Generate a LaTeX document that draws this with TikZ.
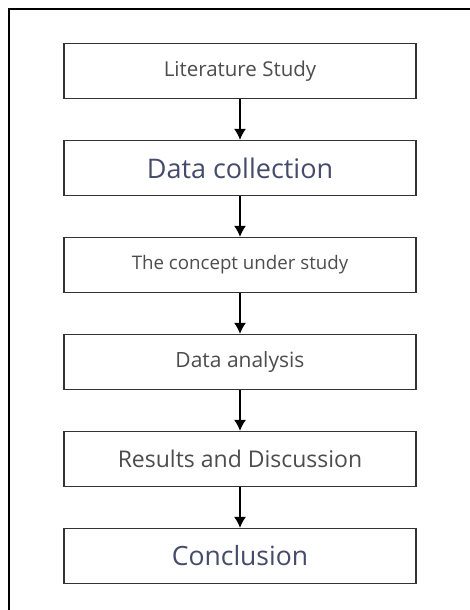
\documentclass[tikz,border=0pt]{standalone}
\usepackage{fontspec}
\setmainfont{Open Sans}
\usepackage{tikz}
\usetikzlibrary{shapes}
\usetikzlibrary{arrows.meta}
\definecolor{textgray}{HTML}{4D4D4D}
\definecolor{textblue}{HTML}{454B6A}
\definecolor{boxline}{HTML}{333333}
\tikzstyle{stepbox} = [rectangle, minimum width=352pt, minimum height=55pt, text centered, draw=boxline,
line width=1.3pt, fill=white, text=textgray, inner sep=0pt]
\tikzstyle{arrow} = [line width=1.1pt, -{Latex[length=11pt, width=12pt]}]

\begin{document}
\begin{tikzpicture}[x=1pt, y=-1pt, node distance=97pt]
  \useasboundingbox (0,0) rectangle (470,610);
  % outer frame, cut off at the right and bottom
  \draw[line width=1.3pt] (9,615) -- (9,9) -- (475,9);

  \node(literature)[stepbox] at (240,71) {\fontsize{20.5}{24}\selectfont Literature Study};
  \node(collection)[stepbox, below of=literature, text=textblue] {\fontsize{27}{32}\selectfont Data collection};
  \node(concept)[stepbox, below of=collection] {\fontsize{18.7}{22}\selectfont The concept under study};
  \node(analysis)[stepbox, below of=concept] {\fontsize{21}{25}\selectfont Data analysis};
  \node(results)[stepbox, below of=analysis] {\fontsize{23}{27}\selectfont Results and Discussion};
  \node(conclusion)[stepbox, below of=results, text=textblue] {\fontsize{26.5}{31}\selectfont Conclusion};

  \draw[arrow] (literature.south) -- (collection.north);
  \draw[arrow] (collection.south) -- (concept.north);
  \draw[arrow] (concept.south) -- (analysis.north);
  \draw[arrow] (analysis.south) -- (results.north);
  \draw[arrow] (results.south) -- (conclusion.north);

\end{tikzpicture}
\end{document}
